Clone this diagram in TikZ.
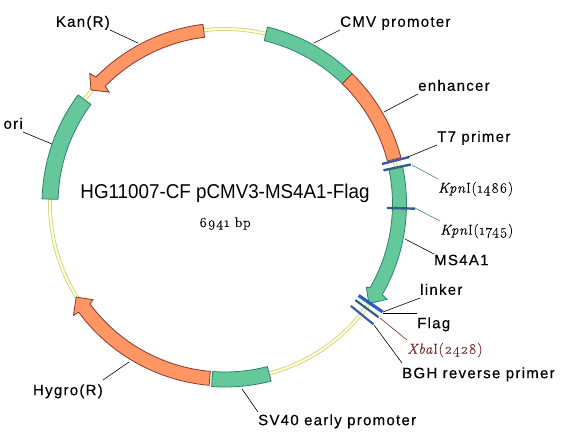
\documentclass[tikz,border=0pt]{standalone}
\usepackage{fontspec}
\newfontfamily\labelfont[LetterSpace=8.5,FakeBold=0.35]{Liberation Sans}
\newfontfamily\titlefont[FakeStretch=0.94]{Liberation Sans}
\newfontfamily\sitefont[Numbers=OldStyle,LetterSpace=5,FakeBold=0.2]{Latin Modern Roman}
\usetikzlibrary{arrows.meta,positioning}
\definecolor{genegreen}{RGB}{100,200,155}
\definecolor{geneline}{RGB}{45,130,110}
\definecolor{geneorange}{RGB}{255,150,100}
\definecolor{orangeline}{RGB}{140,55,40}
\definecolor{ringfill}{RGB}{255,255,205}
\definecolor{ringline}{RGB}{205,205,140}
\definecolor{sitebar}{RGB}{50,95,135}
\definecolor{primerbar}{RGB}{60,90,170}
\definecolor{linkerbar}{RGB}{40,95,190}
\definecolor{kpnline}{RGB}{70,130,140}
\definecolor{xbaline}{RGB}{120,40,40}

\begin{document}
\begin{tikzpicture}[x=1pt, y=1pt, font=\labelfont\fontsize{15}{17}\selectfont,
  gr/.style={draw=geneline, fill=genegreen, line width=0.8pt},
  or/.style={draw=orangeline, fill=geneorange, line width=0.8pt},
  lab/.style={inner sep=0pt, text height=11pt, text depth=3pt},
  res/.style={inner sep=0pt, text height=13.5pt, font=\sitefont\fontsize{14.5}{16}\selectfont},
  lead/.style={draw=black, line width=0.6pt}]
  \useasboundingbox (-225,-234) rectangle (343,204);
  % backbone
  \draw[ringline, line width=3.8pt] (0,0) circle (175);
  \draw[ringfill, line width=2.2pt] (0,0) circle (175);
  % features, clockwise from the top
  \draw[gr] (76.5:168) arc (76.5:45.7:168) -- (45.7:182) arc (45.7:76.5:182) -- cycle;
  \draw[or] (45.7:168) arc (45.7:14.8:168) -- (14.8:182) arc (14.8:45.7:182) -- cycle;
  \draw[gr] (12:167.5) arc (12:-30:167.5) -- (-30.5:164) -- (-34.7:175) -- (-30.5:188) -- (-30:181.5) arc (-30:12:181.5) -- cycle;
  \draw[gr] (-75.4:168) arc (-75.4:-94.2:168) -- (-94.2:183) arc (-94.2:-75.4:183) -- cycle;
  \draw[or] (-95:168) arc (-95:-143.5:168) -- (-144:163) -- (-148:175.5) -- (-143.7:188) -- (-143.5:182) arc (-143.5:-95:182) -- cycle;
  \draw[gr] (143.4:167) arc (143.4:178.4:167) -- (178.4:183) arc (178.4:143.4:183) -- cycle;
  \draw[or] (97:168) arc (97:135.5:168) -- (136:161) -- (139.6:176) -- (136:188) -- (135.5:181) arc (135.5:97:181) -- cycle;
  % bars
  \draw[primerbar, line width=2.4pt] (14.3:162) -- (14.3:190);
  \draw[sitebar, line width=2.4pt] (12:162) -- (12:190);
  \draw[sitebar, line width=2.4pt] (-1.4:162) -- (-1.4:190);
  \draw[linkerbar, line width=3.2pt] (-34.4:162) -- (-34.4:191);
  \draw[sitebar, line width=2.2pt] (-36.4:162) -- (-36.4:191);
  \draw[primerbar, line width=2.2pt] (-39:162) -- (-39:191);
  % centre text
  \node[font=\titlefont\fontsize{20}{22}\selectfont, inner sep=0pt, anchor=base] (title) at (0,5) {HG11007-CF pCMV3-MS4A1-Flag};
  \node[inner sep=0pt, anchor=base, font=\sitefont\fontsize{14}{16}\selectfont] (size) at (0,-23) {6941 bp};
  % labels
  \node[lab, anchor=south east] (kan) at (-115,174) {Kan(R)};
  \node[lab, anchor=south east] (ori) at (-202,72) {ori};
  \node[lab, anchor=south west] (cmv) at (115,174) {CMV promoter};
  \node[lab, anchor=south west] (enh) at (193,110) {enhancer};
  \node[lab, anchor=south west] (tseven) at (212,59) {T7 primer};
  \node[res, anchor=north west] (kpna) at (213,25) {\textit{Kpn}I(1486)};
  \node[res, anchor=north west] (kpnb) at (215,-17) {\textit{Kpn}I(1745)};
  \node[lab, anchor=north west] (ms) at (209,-50) {MS4A1};
  \node[lab, anchor=south west] (lnk) at (195,-94) {linker};
  \node[lab, text height=15pt, anchor=north west] (flg) at (192,-109) {Flag};
  \node[res, anchor=north west, text=xbaline] (xba) at (182,-136) {\textit{Xba}I(2428)};
  \node[lab, text height=15pt, anchor=north west] (bgh) at (177,-159) {BGH reverse primer};
  \node[lab, text height=15pt, anchor=north east] (hyg) at (-122,-176) {Hygro(R)};
  \node[lab, text height=13pt, anchor=north west] (sv) at (33,-208) {SV40 early promoter};
  % anchors on the features
  \coordinate (kanp) at (-87,161);
  \coordinate (orip) at (-173,60);
  \coordinate (cmvp) at (89,161);
  \coordinate (enhp) at (159,92);
  \coordinate (tsevenp) at (183,47);
  \coordinate (kpnap) at (187,39);
  \coordinate (kpnbp) at (190,-4);
  \coordinate (msp) at (180,-35);
  \coordinate (lnkp) at (158,-108);
  \coordinate (flgp) at (158,-109);
  \coordinate (xbap) at (155,-114);
  \coordinate (bghp) at (149,-121);
  \coordinate (hygp) at (-96,-158);
  \coordinate (svp) at (17,-185);
  % leaders
  \draw[lead] (kan.south east) -- (kanp);
  \draw[lead] (ori.south east) -- (orip);
  \draw[lead] (cmv.south west) -- (cmvp);
  \draw[lead] (enh.south west) -- (enhp);
  \draw[lead] (tseven.south west) -- (tsevenp);
  \draw[kpnline, line width=0.6pt] (kpna.north west) -- (kpnap);
  \draw[kpnline, line width=0.6pt] (kpnb.north west) -- (kpnbp);
  \draw[lead] (ms.north west) -- (msp);
  \draw[lead] (lnk.south west) -- (lnkp);
  \draw[lead] (flg.north west) -- (flgp);
  \draw[xbaline, line width=0.6pt] (xba.north west) -- (xbap);
  \draw[lead] (bgh.north west) -- (bghp);
  \draw[lead] (hyg.north east) -- (hygp);
  \draw[lead] (sv.north west) -- (svp);
\end{tikzpicture}
\end{document}
